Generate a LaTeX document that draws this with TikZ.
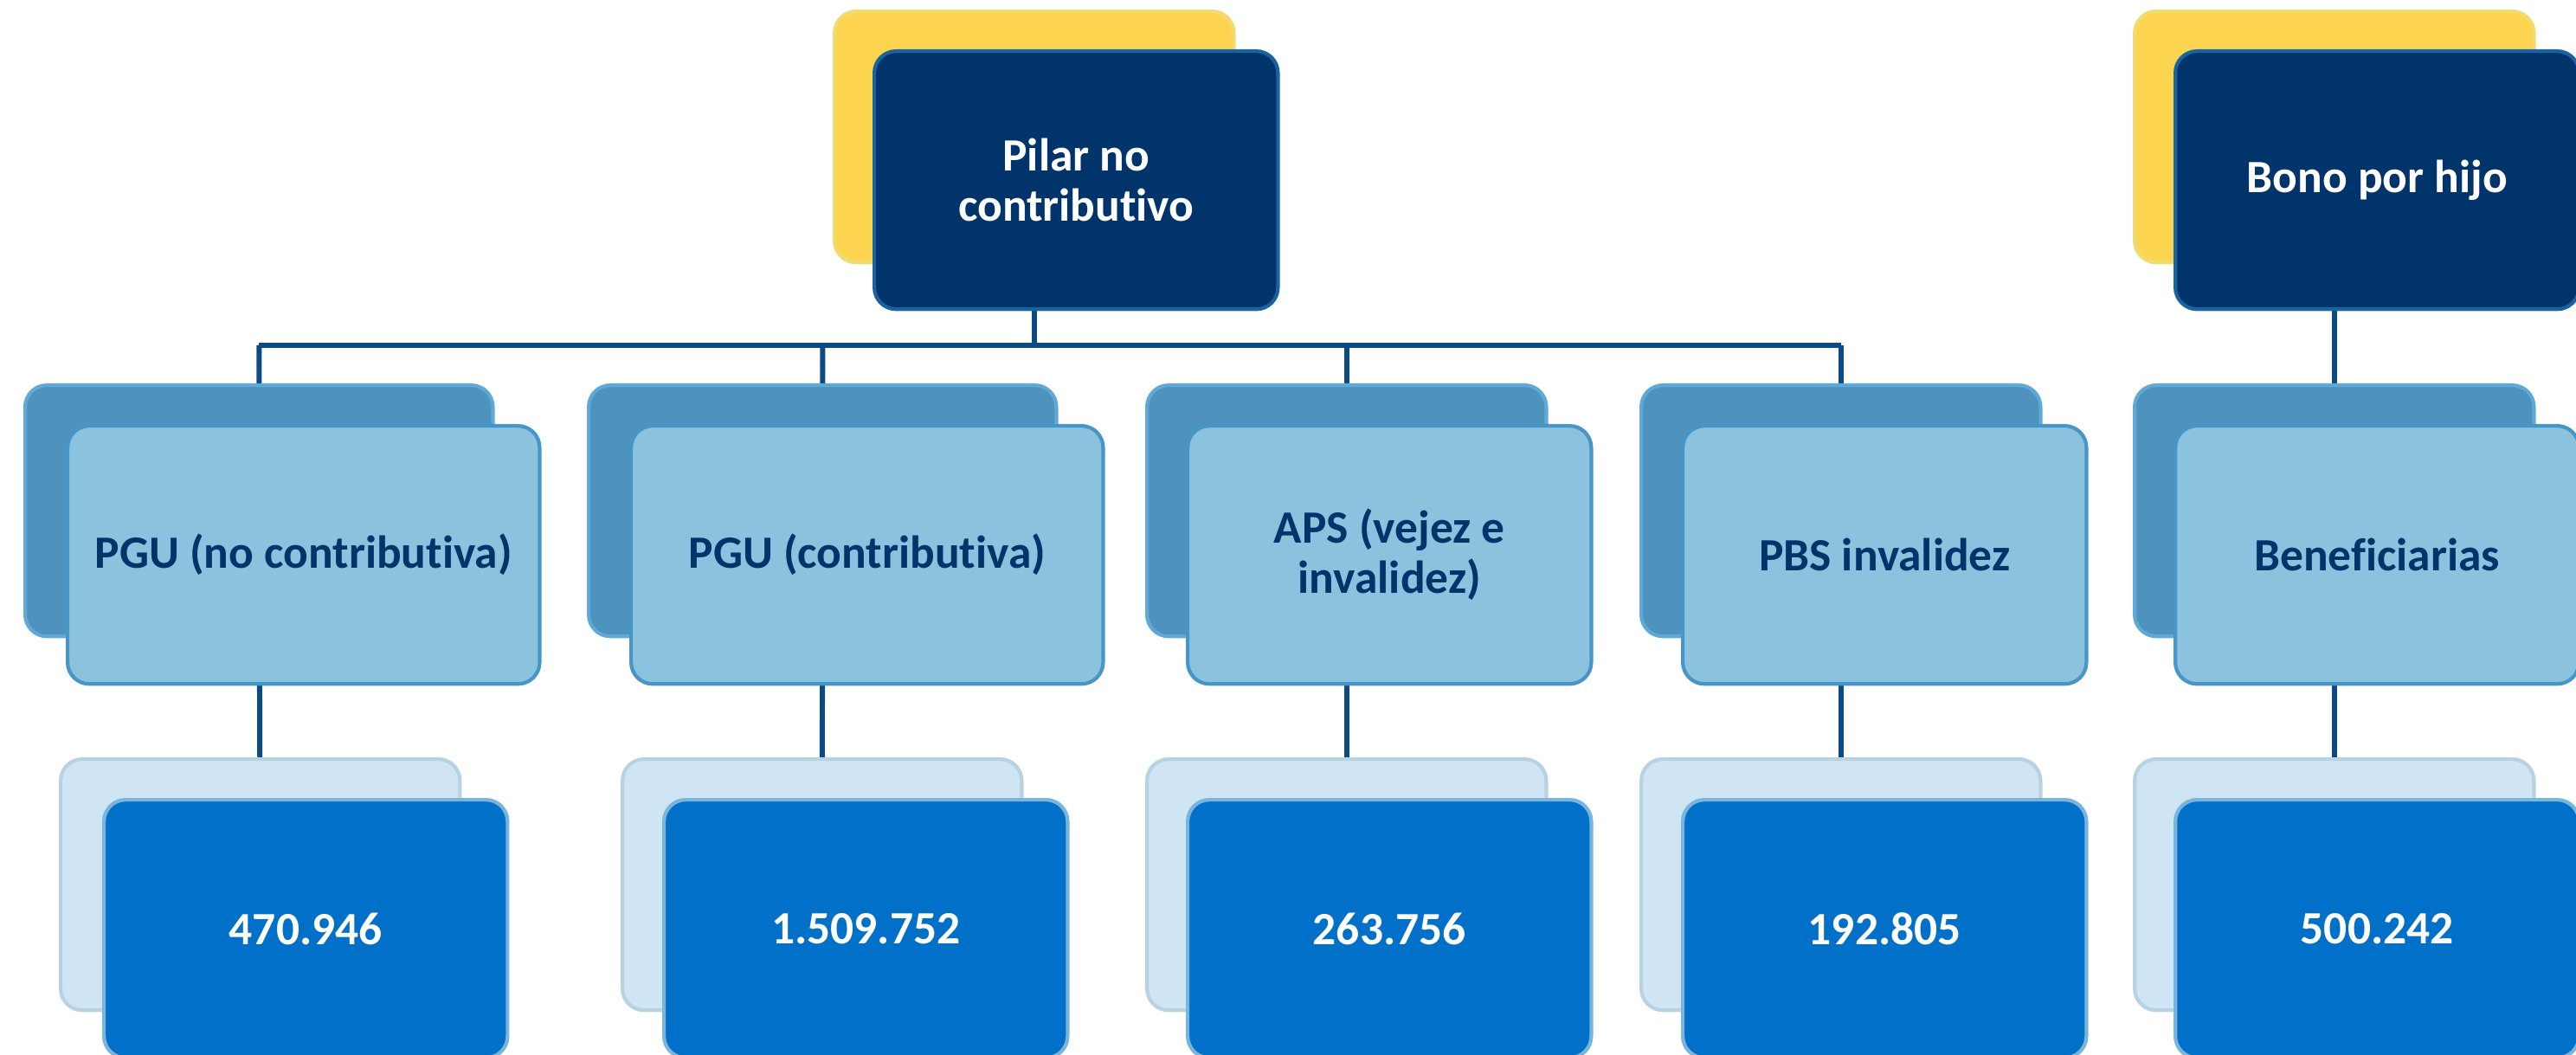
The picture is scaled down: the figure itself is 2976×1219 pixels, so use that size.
\documentclass[tikz,border=0pt]{standalone}
\usepackage{fontspec}
\setmainfont{Carlito}[Ligatures=NoCommon]
\usetikzlibrary{backgrounds}
\definecolor{ybk}{RGB}{252,212,80}
\definecolor{ybkedge}{RGB}{240,220,110}
\definecolor{navy}{RGB}{2,52,108}
\definecolor{navyedge}{RGB}{25,100,160}
\definecolor{mbk}{RGB}{78,146,190}
\definecolor{mbkedge}{RGB}{95,168,215}
\definecolor{mfr}{RGB}{139,195,222}
\definecolor{mfredge}{RGB}{70,150,200}
\definecolor{lbk}{RGB}{207,229,244}
\definecolor{lbkedge}{RGB}{185,210,225}
\definecolor{lfr}{RGB}{0,112,200}
\definecolor{lfredge}{RGB}{120,180,220}
\definecolor{connc}{RGB}{11,74,132}
\begin{document}
\begin{tikzpicture}[x=0.01cm,y=-0.01cm,
  box/.style={rectangle, rounded corners=0.25cm, anchor=north west, inner sep=0pt,
    line width=1.2pt, align=center,
    font=\fontsize{15.2}{16.5}\selectfont\bfseries},
  backbox/.style={box, minimum height=2.90cm},
  frontbox/.style={box, minimum height=2.98cm},
  narrowb/.style={minimum width=4.61cm},
  narrowf/.style={minimum width=4.66cm},
  wideb/.style={minimum width=5.40cm},
  widef/.style={minimum width=5.45cm},
  yellowback/.style={backbox, narrowb, fill=ybk, draw=ybkedge},
  navyfront/.style={frontbox, narrowf, fill=navy, draw=navyedge, text=white},
  midback/.style={backbox, fill=mbk, draw=mbkedge},
  midfront/.style={frontbox, fill=mfr, draw=mfredge, text=navy},
  lowback/.style={backbox, narrowb, fill=lbk, draw=lbkedge},
  lowfront/.style={frontbox, narrowf, fill=lfr, draw=lfredge, text=white},
  conn/.style={draw=connc, line width=1.7pt}
]
\useasboundingbox (0,0) rectangle (2976,1219);

% top row
\node[yellowback] (t1b) at (962,11) {};
\node[navyfront] (t1f) at (1008,57) {Pilar no\\contributivo};
\node[yellowback] (t2b) at (2464,11) {};
\node[navyfront] (t2f) at (2511,57) {Bono por hijo};

% middle row
\node[midback, wideb] (m1b) at (27,443) {};
\node[midfront, widef] (m1f) at (76,490) {PGU (no contributiva)};
\node[midback, wideb] (m2b) at (678,443) {};
\node[midfront, widef] (m2f) at (727,490) {PGU (contributiva)};
\node[midback, narrowb] (m3b) at (1323,443) {};
\node[midfront, narrowf] (m3f) at (1370,490) {APS (vejez e\\invalidez)};
\node[midback, narrowb] (m4b) at (1894,443) {};
\node[midfront, narrowf] (m4f) at (1942,490) {PBS invalidez};
\node[midback, narrowb] (m5b) at (2464,443) {};
\node[midfront, narrowf] (m5f) at (2511,490) {Beneficiarias};

% bottom row
\node[lowback] (b1b) at (68,875) {};
\node[lowfront] (b1f) at (118,922) {470.946};
\node[lowback] (b2b) at (717,875) {};
\node[lowfront] (b2f) at (765,922) {1.509.752};
\node[lowback] (b3b) at (1323,875) {};
\node[lowfront] (b3f) at (1370,922) {263.756};
\node[lowback] (b4b) at (1894,875) {};
\node[lowfront] (b4f) at (1942,922) {192.805};
\node[lowback] (b5b) at (2464,875) {};
\node[lowfront] (b5f) at (2511,922) {500.242};

\coordinate (bus) at (0,399);

\begin{scope}[on background layer]
  \draw[conn] (t1b.center) -- (t1b.center |- bus);
  \draw[conn] (m1b.center |- bus) -- (m4b.center |- bus);
  \draw[conn] (m1b.center |- bus) -- (m1b.center) -- (b1b.center);
  \draw[conn] (m2b.center |- bus) -- (m2b.center) -- (b2b.center);
  \draw[conn] (m3b.center |- bus) -- (m3b.center) -- (b3b.center);
  \draw[conn] (m4b.center |- bus) -- (m4b.center) -- (b4b.center);
  \draw[conn] (t2b.center) -- (m5b.center) -- (b5b.center);
\end{scope}
\end{tikzpicture}
\end{document}
